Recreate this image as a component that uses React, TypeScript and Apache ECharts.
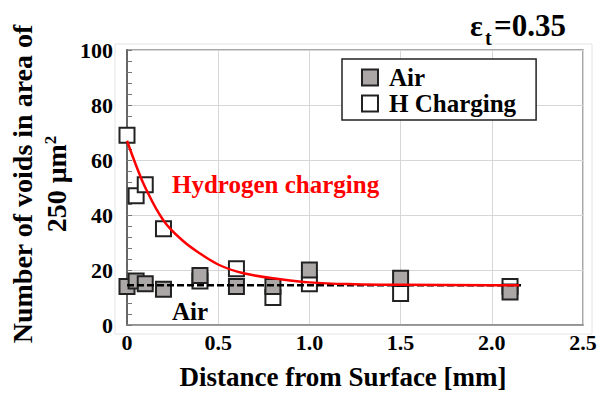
import React, { useEffect, useRef } from "react";
import * as echarts from "echarts";

const xTicks = [0, 0.5, 1.0, 1.5, 2.0, 2.5];
const yTicks = [0, 20, 40, 60, 80, 100];

const airX = [0, 0.05, 0.1, 0.2, 0.4, 0.6, 0.8, 1.0, 1.5, 2.1];
const airY = [14, 16, 15, 13, 18, 14, 14, 20, 17, 12];

const hX = [0, 0.05, 0.1, 0.2, 0.4, 0.6, 0.8, 1.0, 1.5, 2.1];
const hY = [69, 47, 51, 35, 16, 20.5, 10, 15, 11.5, 14];

const fitX = [0, 0.05, 0.1, 0.2, 0.3, 0.4, 0.5, 0.6, 0.7, 0.8, 1.0, 1.25, 1.5, 2.0, 2.15];
const fitY = [67, 58, 50, 38, 31, 26, 22, 19.5, 18, 17, 15.5, 14.8, 14.6, 14.5, 14.5];

const airLineX = [0, 2.16];
const airLineY = [14.5, 14.5];

const FONT = "'Liberation Serif', 'Times New Roman', serif";

const zip = (xs: number[], ys: number[]) => xs.map((x, i) => [x, ys[i]]);

export default function App() {
  const ref = useRef<HTMLDivElement>(null);
  useEffect(() => {
    if (!ref.current) return;
    const chart = echarts.init(ref.current, undefined, { renderer: "svg" });
    const option: any = {
      animation: false,
      backgroundColor: "#ffffff",
      textStyle: { fontFamily: FONT },
      grid: {
        left: 127,
        right: 20,
        top: 50,
        bottom: 71,
        show: true,
        borderColor: "#8a8a8a",
        borderWidth: 1.5,
        backgroundColor: "transparent",
      },
      xAxis: {
        type: "value",
        min: xTicks[0],
        max: xTicks[xTicks.length - 1],
        interval: 0.5,
        axisLine: { show: true, lineStyle: { color: "#8a8a8a", width: 1.5 } },
        axisTick: { show: false },
        splitLine: { show: true, lineStyle: { color: "#d6d6d6", width: 1 } },
        axisLabel: {
          margin: 6,
          color: "#000",
          fontFamily: FONT,
          fontWeight: "bold",
          fontSize: 22,
          formatter: (v: number) => (v === 0 ? "0" : v.toFixed(1)),
        },
      },
      yAxis: {
        type: "value",
        min: yTicks[0],
        max: yTicks[yTicks.length - 1],
        interval: 20,
        axisLine: { show: true, lineStyle: { color: "#666", width: 2 } },
        axisTick: { show: true, inside: true, length: 5, lineStyle: { color: "#777" } },
        minorTick: { show: true, splitNumber: 5, length: 5, lineStyle: { color: "#777" } },
        splitLine: { show: true, lineStyle: { color: "#d6d6d6", width: 1 } },
        axisLabel: {
          margin: 14,
          color: "#000",
          fontFamily: FONT,
          fontWeight: "bold",
          fontSize: 22,
        },
      },
      legend: {
        orient: "vertical",
        left: 342,
        top: 59,
        padding: [6, 20, 4, 19],
        itemGap: 1,
        itemWidth: 16,
        itemHeight: 16,
        backgroundColor: "#fff",
        borderColor: "#222",
        borderWidth: 1.5,
        borderRadius: 0,
        z: 20,
        textStyle: {
          fontFamily: FONT,
          fontWeight: "bold",
          fontSize: 25,
          lineHeight: 24,
          color: "#000",
          padding: [0, 0, 0, 6],
        },
        data: [
          {
            name: "Air",
            icon: "rect",
            itemStyle: { color: "#aba7a7", borderColor: "#222", borderWidth: 2 },
          },
          {
            name: "H Charging",
            icon: "rect",
            itemStyle: { color: "#ffffff", borderColor: "#222", borderWidth: 2 },
          },
        ],
      },
      series: [
        {
          name: "H Charging",
          type: "scatter",
          symbol: "rect",
          symbolSize: 15,
          z: 2,
          itemStyle: { color: "#ffffff", borderColor: "#222", borderWidth: 2, opacity: 1 },
          data: zip(hX, hY),
        },
        {
          name: "Air",
          type: "scatter",
          symbol: "rect",
          symbolSize: 15,
          z: 3,
          itemStyle: { color: "#aba7a7", borderColor: "#222", borderWidth: 2, opacity: 1 },
          data: zip(airX, airY),
        },
        {
          name: "Air fit",
          type: "line",
          z: 4,
          showSymbol: false,
          symbol: "none",
          lineStyle: { color: "#000", width: 2.5, type: [7, 3] },
          data: zip(airLineX, airLineY),
        },
        {
          name: "Hydrogen fit",
          type: "line",
          z: 5,
          smooth: 0.4,
          showSymbol: false,
          symbol: "none",
          lineStyle: { color: "#ff0000", width: 2.5 },
          data: zip(fitX, fitY),
        },
      ],
      graphic: [
        {
          type: "rect",
          z: -1,
          silent: true,
          shape: { x: 115, y: 44, width: 477, height: 290 },
          style: { fill: "none", stroke: "#e4e4e4", lineWidth: 1 },
        },
        {
          type: "text",
          x: 470,
          y: 25,
          style: {
            text: "ε",
            font: `bold 30px ${FONT}`,
            fill: "#000",
            textAlign: "left",
            textVerticalAlign: "middle",
          },
        },
        {
          type: "text",
          x: 485,
          y: 38,
          style: {
            text: "t",
            font: `bold 20px ${FONT}`,
            fill: "#000",
            textAlign: "left",
            textVerticalAlign: "middle",
          },
        },
        {
          type: "text",
          x: 494,
          y: 25,
          style: {
            text: "=0.35",
            font: `bold 31px ${FONT}`,
            fill: "#000",
            textAlign: "left",
            textVerticalAlign: "middle",
          },
        },
        {
          type: "text",
          x: 172,
          y: 184,
          z: 10,
          style: {
            text: "Hydrogen charging",
            font: `bold 25px ${FONT}`,
            fill: "#ff0000",
            textAlign: "left",
            textVerticalAlign: "middle",
          },
        },
        {
          type: "text",
          x: 172,
          y: 311,
          z: 10,
          style: {
            text: "Air",
            font: `bold 25px ${FONT}`,
            fill: "#000",
            textAlign: "left",
            textVerticalAlign: "middle",
          },
        },
        {
          type: "text",
          x: 343,
          y: 377,
          style: {
            text: "Distance from Surface [mm]",
            font: `bold 27px ${FONT}`,
            fill: "#000",
            textAlign: "center",
            textVerticalAlign: "middle",
          },
        },
        {
          type: "text",
          x: 39,
          y: 184,
          rotation: Math.PI / 2,
          style: {
            text: "Number of voids in area of\n250 μm{sup|2}",
            fontFamily: FONT,
            fontWeight: "bold",
            fontSize: 28,
            lineHeight: 34,
            fill: "#000",
            textAlign: "center",
            textVerticalAlign: "middle",
            rich: {
              sup: {
                fontFamily: FONT,
                fontWeight: "bold",
                fontSize: 17,
                padding: [0, 0, 12, 0],
                fill: "#000",
              },
            },
          },
        },
      ],
    };
    chart.setOption(option);
    return () => chart.dispose();
  }, []);
  return (
    <div
      ref={ref}
      style={{ position: "fixed", left: 0, top: 0, width: 603, height: 396 }}
    />
  );
}
